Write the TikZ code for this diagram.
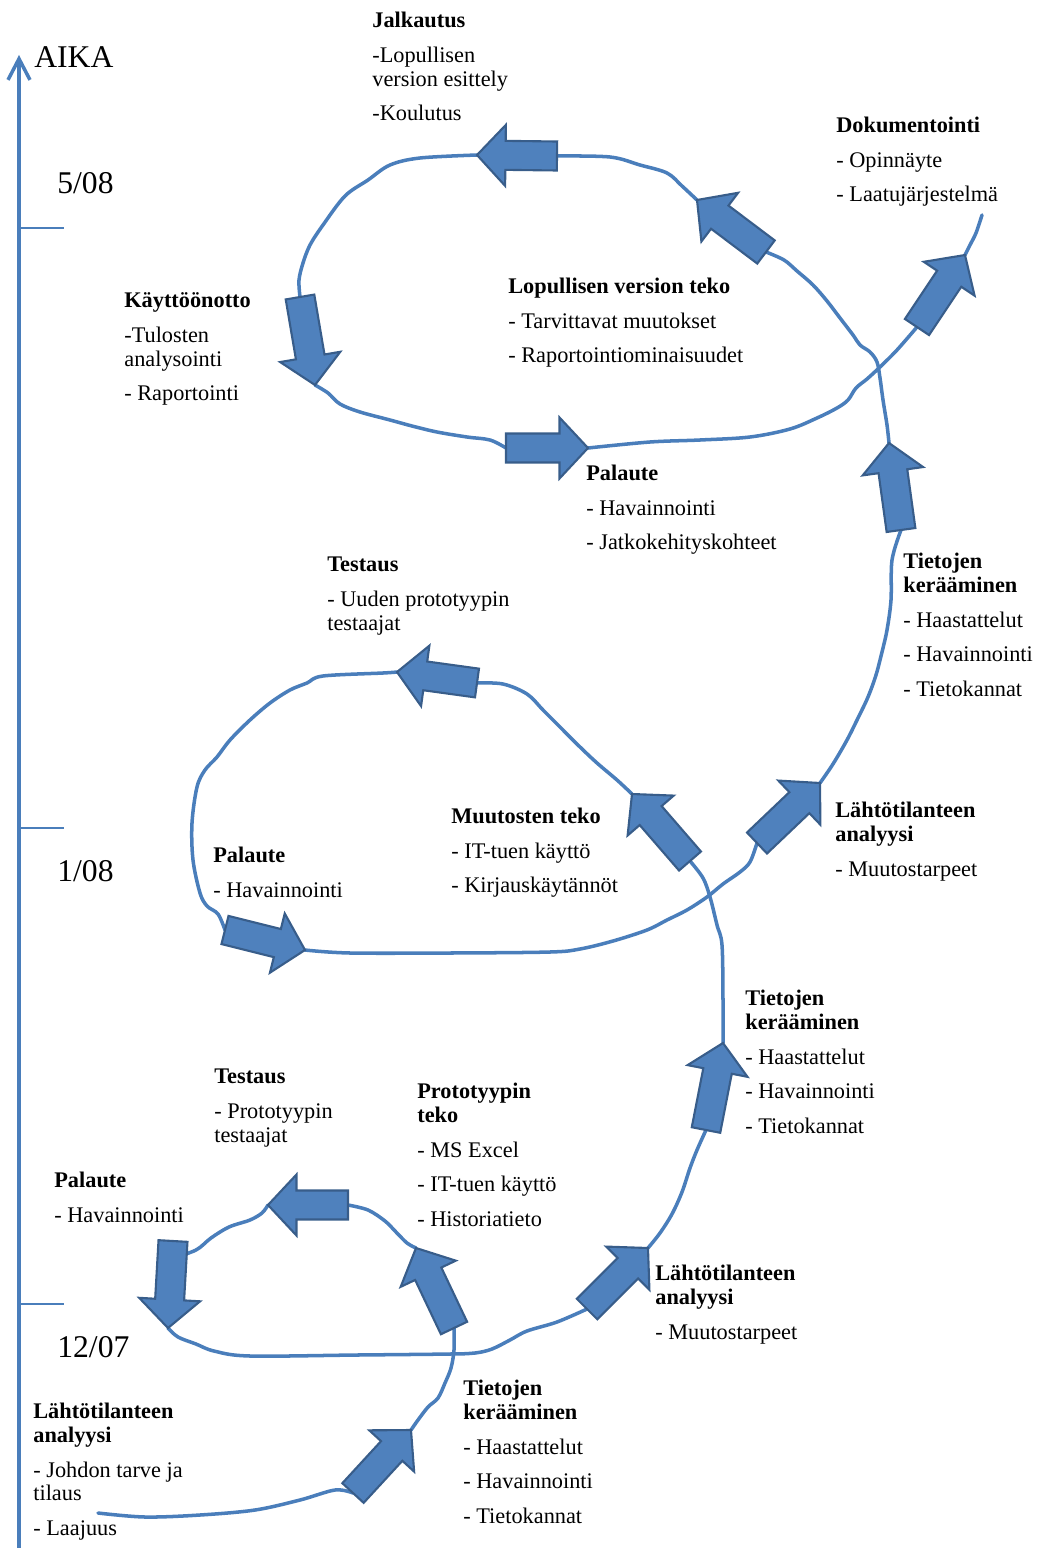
\documentclass[tikz,border=0pt]{standalone}
\usepackage{fontspec}
\setmainfont{Liberation Serif}
\usetikzlibrary{calc,arrows.meta}

\definecolor{flowblue}{HTML}{4A7EBB}
\definecolor{arrowfill}{HTML}{4F81BD}
\definecolor{arrowedge}{HTML}{385D8A}

% block arrow: tail/tip coordinates, then the body drawn on top of the path
\newcommand\arrowpts[3]{%
  \coordinate (#1-t) at (#2);
  \coordinate (#1-h) at (#3);
  \coordinate (#1-b) at ($(#1-h)!0.57cm!(#1-t)$);}
\newcommand\arrowbody[1]{%
  \filldraw[barrow] ($(#1-t)!0.29cm!90:(#1-h)$) -- ($(#1-b)!0.29cm!90:(#1-h)$)
    -- ($(#1-b)!0.61cm!90:(#1-h)$) -- (#1-h) -- ($(#1-b)!0.61cm!-90:(#1-h)$)
    -- ($(#1-b)!0.29cm!-90:(#1-h)$) -- ($(#1-t)!0.29cm!-90:(#1-h)$) -- cycle;}

\begin{document}
\begin{tikzpicture}[x=0.02cm, y=-0.02cm,
  flow/.style={draw=flowblue, line width=2pt, line cap=round, line join=round},
  barrow/.style={fill=arrowfill, draw=arrowedge, line width=1.2pt, line join=miter},
  axisline/.style={draw=flowblue, line width=2pt},
  tickline/.style={draw=flowblue, line width=1.2pt},
  lbl/.style={anchor=north west, inner sep=0pt, align=left,
    font=\fontsize{12.7}{13.6}\selectfont, yshift=9.52pt},
  datelbl/.style={anchor=base west, inner sep=0pt, font=\fontsize{18}{21}\selectfont}]

\useasboundingbox (0,0) rectangle (1045,1548);

% time axis
\coordinate (axisbottom) at (19,1548);
\coordinate (axistop) at (19,55);
\draw[axisline, -{Straight Barb[length=12pt, width=12.5pt, line width=2pt]}] (axisbottom) -- (axistop);
\coordinate (t1) at (19,228);    \coordinate (t1e) at (64,228);
\coordinate (t2) at (19,828);    \coordinate (t2e) at (64,828);
\coordinate (t3) at (19,1304);   \coordinate (t3e) at (64,1304);
\draw[tickline] (t1) -- (t1e);
\draw[tickline] (t2) -- (t2e);
\draw[tickline] (t3) -- (t3e);
\node[datelbl] (aika) at (34,68) {AIKA};
\node[datelbl] (d1) at (57,193) {5/08};
\node[datelbl] (d2) at (57,881) {1/08};
\node[datelbl] (d3) at (57,1357) {12/07};

% arrow positions (tail, tip)
\arrowpts{A1}{353,1493}{411,1430}
\arrowpts{A2}{454,1328}{416,1248}
\arrowpts{A3}{348,1205}{268,1205}
\arrowpts{A4}{173,1241}{168,1328}
\arrowpts{A5}{587,1309}{648,1248}
\arrowpts{A6}{706,1130}{723,1043}
\arrowpts{A7}{690,861}{632,794}
\arrowpts{A8}{477,683}{397,672}
\arrowpts{A9}{225,930}{305,950}
\arrowpts{A10}{757,843}{820,783}
\arrowpts{A11}{901,530}{889,443}
\arrowpts{A12}{766,252}{697,200}
\arrowpts{A13}{557,156}{477,155}
\arrowpts{A14}{300,297}{315,385}
\arrowpts{A15}{506,448}{588,448}
\arrowpts{A16}{917,327}{965,255}
\coordinate (A4-j) at ($(A4-t)!0.2!(A4-h)$);
\coordinate (start) at (98,1513);
\coordinate (finish) at (982,215);

% the process path
\draw[flow] plot[smooth, tension=0.55] coordinates {(start) (145,1517) (200,1515) (255,1510) (300,1500) (335,1490) (A1-t)};
\draw[flow] plot[smooth, tension=0.55] coordinates {(A1-h) (418,1420) (428,1407) (438,1398) (445,1383) (451,1368) (454,1350) (A2-t)};
\draw[flow] plot[smooth, tension=0.55] coordinates {(A2-h) (407,1243) (396,1232) (385,1221) (368,1210) (A3-t)};
\draw[flow] plot[smooth, tension=0.55] coordinates {(A3-h) (262,1213) (250,1220) (229,1227) (211,1238) (196,1250) (A4-j)};
\draw[flow] plot[smooth, tension=0.55] coordinates {(A4-h) (178,1337) (196,1344) (214,1351) (250,1356) (357,1355) (450,1354) (475,1353) (492,1349) (510,1340) (527,1331) (557,1322) (A5-t)};
\draw[flow] plot[smooth, tension=0.55] coordinates {(A5-h) (660,1233) (672,1214) (682,1192) (690,1168) (697,1150) (A6-t)};
\draw[flow] plot[smooth, tension=0.55] coordinates {(A6-h) (723,1000) (722,945) (717,925) (710,897) (703,878) (A7-t)};
\draw[flow] plot[smooth, tension=0.55] coordinates {(A7-h) (617,780) (597,763) (580,747) (560,727) (543,710) (527,694) (503,684) (A8-t)};
\draw[flow] plot[smooth, tension=0.55] coordinates {(A8-h) (383,673) (323,676) (307,683) (290,690) (270,703) (250,720) (230,740) (217,757) (205,770) (197,787) (192,823) (193,860) (200,893) (207,906) (218,914) (A9-t)};
\draw[flow] plot[smooth, tension=0.55] coordinates {(A9-h) (350,953) (450,953) (550,952) (580,949) (613,941) (647,930) (667,920) (687,910) (707,897) (723,884) (740,872) (750,862) (A10-t)};
\draw[flow] plot[smooth, tension=0.55] coordinates {(A10-h) (833,764) (847,740) (858,718) (868,697) (876,675) (882,652) (887,630) (891,600) (892,560) (A11-t)};
\draw[flow] plot[smooth, tension=0.55] coordinates {(A11-h) (887,425) (883,400) (880,378) (877,362) (870,352) (860,345) (853,335) (840,318) (827,301) (813,285) (797,271) (784,260) (A12-t)};
\draw[flow] plot[smooth, tension=0.55] coordinates {(A12-h) (682,186) (667,173) (640,165) (610,157) (A13-t)};
\draw[flow] plot[smooth, tension=0.55] coordinates {(A13-h) (420,158) (390,165) (368,180) (345,196) (323,225) (310,245) (303,263) (299,280) (A14-t)};
\draw[flow] plot[smooth, tension=0.55] coordinates {(A14-h) (328,393) (340,404) (360,412) (390,420) (412,426) (437,432) (467,437) (490,440) (A15-t)};
\draw[flow] plot[smooth, tension=0.55] coordinates {(A15-h) (650,442) (700,440) (750,437) (790,429) (817,418) (837,408) (848,400) (856,388) (867,379) (880,367) (897,350) (A16-t)};
\draw[flow] plot[smooth, tension=0.55] coordinates {(A16-h) (970,245) (976,233) (finish)};

% block arrows on top of the path
\foreach \a in {A1,A2,A3,A4,A5,A6,A7,A8,A9,A10,A11,A12,A13,A14,A15,A16}{\arrowbody{\a}}

% phase labels
\node[lbl] (jalk) at (372,27) {\strut\textbf{Jalkautus}\\[6.2pt]-Lopullisen\\version esittely\\[6.2pt]-Koulutus};
\node[lbl] (doku) at (836,132) {\strut\textbf{Dokumentointi}\\[6.2pt]- Opinnäyte\\[6.2pt]- Laatujärjestelmä};
\node[lbl] (kayt) at (124,307) {\strut\textbf{Käyttöönotto}\\[6.2pt]-Tulosten\\analysointi\\[6.2pt]- Raportointi};
\node[lbl] (lopv) at (508,293) {\strut\textbf{Lopullisen version teko}\\[6.2pt]- Tarvittavat muutokset\\[6.2pt]- Raportointiominaisuudet};
\node[lbl] (pal3) at (586,480) {\strut\textbf{Palaute}\\[6.2pt]- Havainnointi\\[6.2pt]- Jatkokehityskohteet};
\node[lbl] (tes2) at (327,571) {\strut\textbf{Testaus}\\[6.2pt]- Uuden prototyypin\\testaajat};
\node[lbl] (tie3) at (903,568) {\strut\textbf{Tietojen}\\\textbf{kerääminen}\\[6.2pt]- Haastattelut\\[6.2pt]- Havainnointi\\[6.2pt]- Tietokannat};
\node[lbl] (lah3) at (835,817) {\strut\textbf{Lähtötilanteen}\\\textbf{analyysi}\\[6.2pt]- Muutostarpeet};
\node[lbl] (muut) at (451,823) {\strut\textbf{Muutosten teko}\\[6.2pt]- IT-tuen käyttö\\[6.2pt]- Kirjauskäytännöt};
\node[lbl] (pal2) at (213,862) {\strut\textbf{Palaute}\\[6.2pt]- Havainnointi};
\node[lbl] (tie2) at (745,1005) {\strut\textbf{Tietojen}\\\textbf{kerääminen}\\[6.2pt]- Haastattelut\\[6.2pt]- Havainnointi\\[6.2pt]- Tietokannat};
\node[lbl] (tes1) at (214,1083) {\strut\textbf{Testaus}\\[6.2pt]- Prototyypin\\testaajat};
\node[lbl] (prot) at (417,1098) {\strut\textbf{Prototyypin}\\\textbf{teko}\\[6.2pt]- MS Excel\\[6.2pt]- IT-tuen käyttö\\[6.2pt]- Historiatieto};
\node[lbl] (pal1) at (54,1187) {\strut\textbf{Palaute}\\[6.2pt]- Havainnointi};
\node[lbl] (lah2) at (655,1280) {\strut\textbf{Lähtötilanteen}\\\textbf{analyysi}\\[6.2pt]- Muutostarpeet};
\node[lbl] (tie1) at (463,1395) {\strut\textbf{Tietojen}\\\textbf{kerääminen}\\[6.2pt]- Haastattelut\\[6.2pt]- Havainnointi\\[6.2pt]- Tietokannat};
\node[lbl] (lah1) at (33,1418) {\strut\textbf{Lähtötilanteen}\\\textbf{analyysi}\\[6.2pt]- Johdon tarve ja\\tilaus\\[6.2pt]- Laajuus};

\end{tikzpicture}
\end{document}
